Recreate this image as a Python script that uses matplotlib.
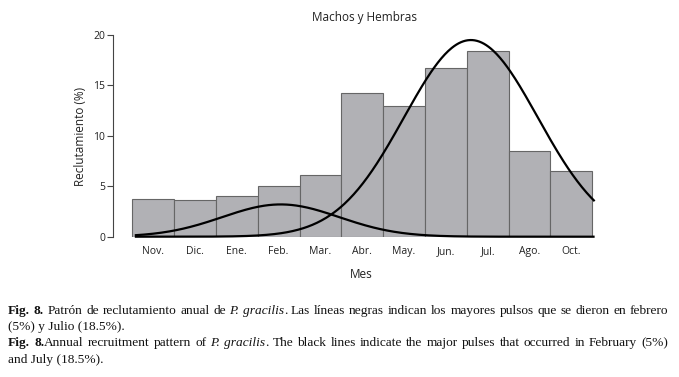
import matplotlib
matplotlib.use("Agg")
import matplotlib.pyplot as plt
import numpy as np

MESES = ["Nov.", "Dic.", "Ene.", "Feb.", "Mar.", "Abr.", "May.", "Jun.", "Jul.", "Ago.", "Oct."]
RECLUT = [3.74, 3.62, 4.05, 4.98, 6.14, 14.23, 12.94, 16.69, 18.45, 8.5, 6.55]
YTICKS = [0, 5, 10, 15, 20]

# pulsos (amplitud, centro en indice de mes, sigma)
PULSO_FEB = (3.2, 3.05, 1.4)
PULSO_JUL = (19.5, 7.6, 1.6)

plt.rcParams.update({
    "font.family": ["Open Sans", "DejaVu Sans"],
    "font.size": 8,
})

W, H = 679, 377
TXT = "#222222"
fig = plt.figure(figsize=(W / 100, H / 100), dpi=100)
fig.patch.set_facecolor("white")

ax = fig.add_axes([112.7 / W, 1 - 236.7 / H, 483.6 / W, 201.7 / H])
x = np.arange(len(MESES))
ax.bar(x, RECLUT, width=1.0, color="#b1b1b5", edgecolor="#666666", linewidth=0.8, zorder=2)

xs = np.linspace(-0.44, 10.56, 400)
for amp, mu, sig in (PULSO_FEB, PULSO_JUL):
    ax.plot(xs, amp * np.exp(-(xs - mu) ** 2 / (2 * sig ** 2)), color="black", lw=1.6,
            zorder=3, clip_on=False, solid_capstyle="butt")

ax.set_xlim(-0.969, 10.6)
ax.set_ylim(0, 20)
ax.set_yticks(YTICKS)
ax.set_xticks(x)
ax.set_xticklabels(MESES, fontsize=7.5, color=TXT)
ax.tick_params(axis="x", length=0, pad=7)
ax.tick_params(axis="y", length=4, width=0.8, pad=1.5, labelsize=7.5, colors="#444444",
               labelcolor=TXT)
for s in ("top", "right", "bottom"):
    ax.spines[s].set_visible(False)
ax.spines["left"].set_color("#444444")
ax.spines["left"].set_linewidth(0.8)

fig.text(80.7 / W, 1 - 136 / H, "Reclutamiento (%)", rotation=90, ha="center", va="center",
         fontsize=8.5, color=TXT)
fig.text(361 / W, 1 - 274.3 / H, "Mes", ha="center", va="center", fontsize=8.5, color=TXT)
fig.text(364 / W, 1 - 17.3 / H, "Machos y Hembras", ha="center", va="center", fontsize=8.5, color=TXT)

# pie de figura, justificado a mano
renderer = fig.canvas.get_renderer()
SERIF = "Liberation Serif"
CAP_SIZE = 9.6


def put_line(tokens, y_px, x0=8, x1=668):
    items = []
    for text, weight, style, gap in tokens:
        t = fig.text(0, 0, text, fontsize=CAP_SIZE, family=SERIF, weight=weight,
                     style=style, va="baseline", ha="left", color="#111111")
        w = t.get_window_extent(renderer).width
        items.append((t, w, gap))
    total = sum(w for _, w, _ in items)
    n_gaps = sum(1 for _, _, g in items[1:] if g)
    space = (x1 - x0 - total) / n_gaps
    xp = x0
    for i, (t, w, gap) in enumerate(items):
        if i > 0 and gap:
            xp += space
        t.set_position((xp / W, 1 - y_px / H))
        xp += w


def words(text, weight="normal", style="normal", first_gap=True):
    out = []
    for i, wd in enumerate(text.split()):
        out.append((wd, weight, style, first_gap if i == 0 else True))
    return out


line1 = (words("Fig. 8.", "bold") + words("Patrón de reclutamiento anual de")
         + words("P. gracilis", style="italic")
         + words(". Las líneas negras indican los mayores pulsos que se dieron en febrero", first_gap=False))
line3 = (words("Fig. 8.", "bold") + words("Annual recruitment pattern of", first_gap=False)
         + words("P. gracilis", style="italic")
         + words(". The black lines indicate the major pulses that occurred in February (5%)", first_gap=False))

put_line(line1, 313.7)
put_line(line3, 346.3)
fig.text(8 / W, 1 - 330.3 / H, "(5%) y Julio (18.5%).", fontsize=CAP_SIZE, family=SERIF,
         va="baseline", ha="left", color="#111111")
fig.text(8 / W, 1 - 362.5 / H, "and July (18.5%).", fontsize=CAP_SIZE, family=SERIF,
         va="baseline", ha="left", color="#111111")

fig.savefig("out.png", dpi=100, facecolor="white")
